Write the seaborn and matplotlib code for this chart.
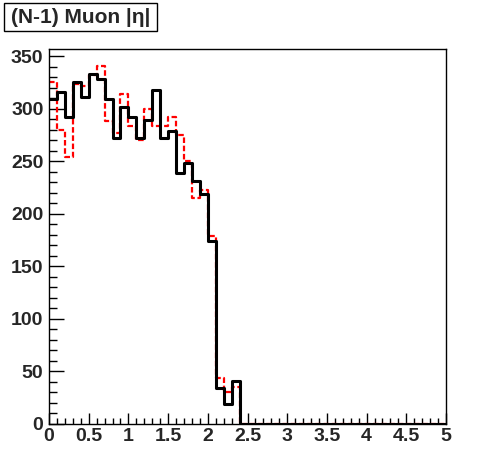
import numpy as np
import pandas as pd
import matplotlib
matplotlib.use("Agg")
import matplotlib.pyplot as plt
from matplotlib.patches import Rectangle
from matplotlib.ticker import MultipleLocator, FuncFormatter
import seaborn as sns

# Data: |eta| histogram, 50 bins of width 0.1 from 0 to 5
n_bins = 50
eta_range = (0.0, 5.0)
black_counts = [309, 316, 292, 326, 311, 333, 328, 309, 272, 302,
                292, 272, 289, 318, 272, 279, 239, 248, 231, 219,
                174, 34, 19, 41] + [0] * 26
red_counts = [326, 280, 254, 324, 322, 332, 341, 288, 277, 314,
              284, 270, 300, 284, 284, 292, 275, 250, 215, 223,
              179, 44, 30, 35] + [0] * 26
title_text = "(N-1) Muon |η|"

bw = (eta_range[1] - eta_range[0]) / n_bins
centers = eta_range[0] + bw * (np.arange(n_bins) + 0.5)
df = pd.DataFrame({"eta": centers, "black": black_counts, "red": red_counts})

sns.set_style("white")
plt.rcParams["font.family"] = ["Liberation Sans", "DejaVu Sans"]
plt.rcParams["font.weight"] = "bold"

W, H = 496, 472
fig = plt.figure(figsize=(W / 100, H / 100), dpi=100)
ax = fig.add_axes([49 / W, 1 - 424 / H, (446 - 49) / W, (424 - 49) / H])

sns.histplot(data=df, x="eta", weights="red", bins=n_bins, binrange=eta_range,
             element="step", fill=False, color="#ff0000", linewidth=1.6,
             linestyle=(0, (2.5, 1.2)), ax=ax)
sns.histplot(data=df, x="eta", weights="black", bins=n_bins, binrange=eta_range,
             element="step", fill=False, color="black", linewidth=2.2, ax=ax)

ax.set_xlim(0, 5)
ax.set_ylim(0, 357)
ax.set_xlabel("")
ax.set_ylabel("")

for s in ax.spines.values():
    s.set_color("black")
    s.set_linewidth(1.0)

ax.xaxis.set_major_locator(MultipleLocator(0.5))
ax.xaxis.set_minor_locator(MultipleLocator(0.1))
ax.yaxis.set_major_locator(MultipleLocator(50))
ax.yaxis.set_minor_locator(MultipleLocator(10))
ax.xaxis.set_major_formatter(FuncFormatter(lambda v, p: f"{v:g}"))
ax.yaxis.set_major_formatter(FuncFormatter(lambda v, p: f"{v:g}"))

ax.tick_params(axis="both", which="both", direction="in", top=False, right=False,
               left=True, bottom=True, color="black", width=1.0)
ax.tick_params(axis="x", which="major", length=8, pad=3, labelsize=14)
ax.tick_params(axis="x", which="minor", length=4)
ax.tick_params(axis="y", which="major", length=11, pad=4, labelsize=14)
ax.tick_params(axis="y", which="minor", length=5.5)
for lab in ax.get_xticklabels() + ax.get_yticklabels():
    lab.set_fontweight("bold")

# title box
fig.patches.append(Rectangle((4 / W, 1 - 31 / H), (157 - 4) / W, (31 - 3) / H,
                             transform=fig.transFigure, facecolor="white",
                             edgecolor="black", linewidth=1.0))
fig.text(11 / W, 1 - 17.5 / H, title_text, fontsize=15, fontweight="bold",
         ha="left", va="center")

fig.savefig("out.png", dpi=100)
